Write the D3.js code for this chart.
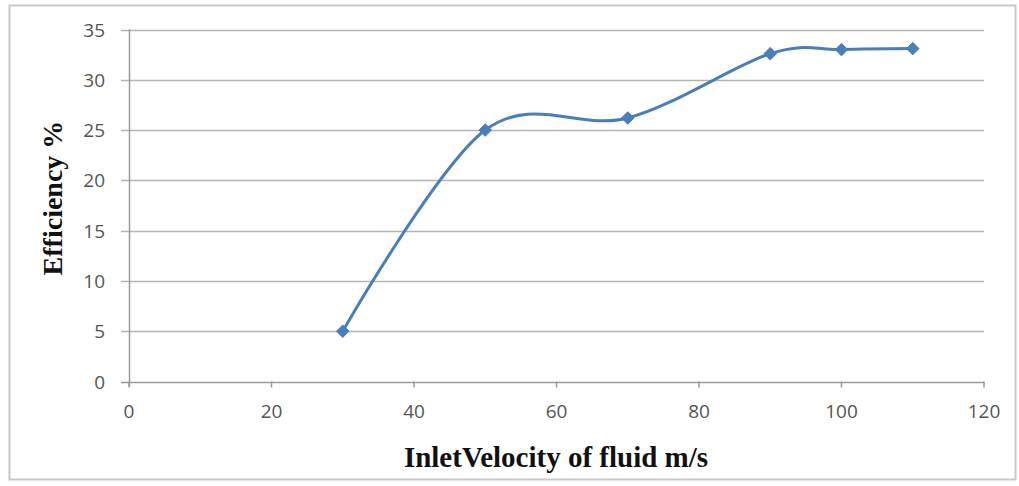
<!DOCTYPE html>
<html>
<head>
<meta charset="utf-8">
<script src="https://cdn.jsdelivr.net/npm/d3@7"></script>
<style>
  body { margin: 0; background: #fff; }
  svg { display: block; }
</style>
</head>
<body>
<script>
// values
var velocity = [30, 50, 70, 90, 100, 110];
var efficiency = [5, 25, 26.2, 32.6, 33, 33.1];
var xTicks = [0, 20, 40, 60, 80, 100, 120];
var yTicks = [0, 5, 10, 15, 20, 25, 30, 35];

var width = 1019, height = 486;
var margin = {top: 29.5, right: 35, bottom: 104.5, left: 129};

var svg = d3.select("body").append("svg")
    .attr("width", width)
    .attr("height", height);

// outer frame
svg.append("rect")
    .attr("x", 9.5).attr("y", 5.5)
    .attr("width", 1006).attr("height", 474)
    .attr("fill", "none")
    .attr("stroke", "#c8c8c8")
    .attr("stroke-width", 2);

var x = d3.scaleLinear().domain([0, 120]).range([margin.left, width - margin.right]);
var y = d3.scaleLinear().domain([0, 35]).range([height - margin.bottom, margin.top]);

// gridlines
svg.append("g")
    .selectAll("line")
    .data(yTicks)
  .enter().append("line")
    .attr("x1", margin.left - 8)
    .attr("x2", x(120))
    .attr("y1", function(d) { return Math.round(y(d)) + 0.5; })
    .attr("y2", function(d) { return Math.round(y(d)) + 0.5; })
    .attr("stroke", function(d) { return d === 0 ? "#9a9a9a" : "#b4b4b4"; })
    .attr("stroke-width", 1.5);

// y axis line
svg.append("line")
    .attr("x1", margin.left + 0.5).attr("x2", margin.left + 0.5)
    .attr("y1", y(35)).attr("y2", y(0) + 5)
    .attr("stroke", "#9a9a9a")
    .attr("stroke-width", 1.5);

// x ticks
svg.append("g")
    .selectAll("line")
    .data(xTicks)
  .enter().append("line")
    .attr("x1", function(d) { return x(d); })
    .attr("x2", function(d) { return x(d); })
    .attr("y1", y(0))
    .attr("y2", y(0) + 6)
    .attr("stroke", "#9a9a9a")
    .attr("stroke-width", 1.5);

// tick labels
svg.append("g")
    .selectAll("text")
    .data(yTicks)
  .enter().append("text")
    .attr("x", 105)
    .attr("y", function(d) { return y(d) + 7; })
    .attr("text-anchor", "end")
    .style("font-family", "'Open Sans', sans-serif")
    .style("font-size", "19px")
    .style("fill", "#555")
    .text(function(d) { return d; });

svg.append("g")
    .selectAll("text")
    .data(xTicks)
  .enter().append("text")
    .attr("x", function(d) { return x(d); })
    .attr("y", y(0) + 36)
    .attr("text-anchor", "middle")
    .style("font-family", "'Open Sans', sans-serif")
    .style("font-size", "19px")
    .style("fill", "#555")
    .text(function(d) { return d; });

// smoothed line
var line = d3.line()
    .x(function(d) { return x(d[0]); })
    .y(function(d) { return y(d[1]); })
    .curve(d3.curveCatmullRom.alpha(0));

var pts = velocity.map(function(v, i) { return [v, efficiency[i]]; });

svg.append("path")
    .datum(pts)
    .attr("d", line)
    .attr("fill", "none")
    .attr("stroke", "#4a7ebb")
    .attr("stroke-width", 3);

// diamond markers
svg.append("g")
    .selectAll("path")
    .data(pts)
  .enter().append("path")
    .attr("transform", function(d) { return "translate(" + x(d[0]) + "," + y(d[1]) + ")"; })
    .attr("d", d3.symbol().type(d3.symbolDiamond2).size(100))
    .attr("fill", "#4a7ebb")
    .attr("stroke", "#4a7ebb")
    .attr("stroke-width", 1);

// axis titles
svg.append("text")
    .attr("x", 556)
    .attr("y", 467)
    .attr("text-anchor", "middle")
    .style("font-family", "'Liberation Serif', 'Times New Roman', serif")
    .style("font-weight", "bold")
    .style("font-size", "29px")
    .style("fill", "#111")
    .text("InletVelocity of fluid m/s");

svg.append("text")
    .attr("transform", "translate(62," + 198 + ") rotate(-90)")
    .attr("text-anchor", "middle")
    .style("font-family", "'Liberation Serif', 'Times New Roman', serif")
    .style("font-weight", "bold")
    .style("font-size", "28px")
    .style("fill", "#111")
    .text("Efficiency %");
</script>
</body>
</html>
